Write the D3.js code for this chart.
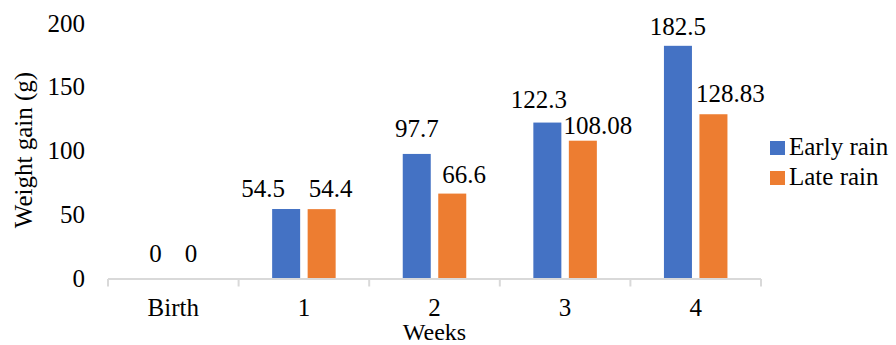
<!DOCTYPE html>
<html>
<head>
<meta charset="utf-8">
<script src="https://cdn.jsdelivr.net/npm/d3@7"></script>
<style>
  html, body { margin: 0; padding: 0; background: #fff; }
  svg { display: block; }
  svg text { font-family: "Liberation Serif", "Times New Roman", "DejaVu Serif", serif !important; fill: #000; }
</style>
</head>
<body>
<div id="chart"></div>
<script>
// Weight gain by week, early vs late rain
const categories = ["Birth", "1", "2", "3", "4"];
const seriesNames = ["Early rain", "Late rain"];
const earlyRain = [0, 54.5, 97.7, 122.3, 182.5];
const lateRain = [0, 54.4, 66.6, 108.08, 128.83];
const valueLabels = [
  ["0", "54.5", "97.7", "122.3", "182.5"],
  ["0", "54.4", "66.6", "108.08", "128.83"]
];
const yTicks = [0, 50, 100, 150, 200];
const seriesColors = ["#4472C4", "#ED7D31"];

const W = 896, H = 345;
const FONT = 25;
const plot = { left: 108, right: 761, top: 23.5, bottom: 278.5 };

const svg = d3.select("#chart").append("svg")
  .attr("width", W).attr("height", H);

const x0 = d3.scaleBand().domain(categories).range([plot.left, plot.right]).padding(0);
const x1 = d3.scaleBand().domain(seriesNames).range([0, x0.bandwidth()])
  .paddingInner(0.211).paddingOuter(0.945);
const y = d3.scaleLinear().domain([0, 200]).range([plot.bottom, plot.top]);

const seriesValues = [earlyRain, lateRain];

// bars
seriesNames.forEach((name, si) => {
  svg.append("g").selectAll("rect")
    .data(categories.map((c, i) => ({ c, v: seriesValues[si][i] })))
    .join("rect")
    .attr("x", d => x0(d.c) + x1(name))
    .attr("width", x1.bandwidth())
    .attr("y", d => y(d.v))
    .attr("height", d => y(0) - y(d.v))
    .attr("fill", seriesColors[si]);
});

// category axis
const xAxis = svg.append("g")
  .attr("transform", `translate(0,${plot.bottom + 0.5})`)
  .call(d3.axisBottom(x0).tickSize(0).tickFormat(d => d));
xAxis.attr("font-family", null).attr("font-size", null);
xAxis.select(".domain").remove();
xAxis.selectAll("text")
  .attr("font-size", FONT)
  .attr("y", 0).attr("dy", 0)
  .attr("transform", "translate(0,37)");
xAxis.append("line")
  .attr("x1", plot.left).attr("x2", plot.right)
  .attr("y1", 0).attr("y2", 0)
  .attr("stroke", "#d9d9d9").attr("stroke-width", 2);
xAxis.selectAll(".boundary")
  .data(d3.range(categories.length + 1))
  .join("line")
  .attr("x1", i => plot.left + i * x0.step())
  .attr("x2", i => plot.left + i * x0.step())
  .attr("y1", 0).attr("y2", 7.5)
  .attr("stroke", "#d9d9d9").attr("stroke-width", 2);

// value axis (labels only)
const yAxis = svg.append("g")
  .attr("transform", `translate(85,0)`)
  .call(d3.axisLeft(y).tickValues(yTicks).tickSize(0).tickPadding(0));
yAxis.attr("font-family", null).attr("font-size", null);
yAxis.select(".domain").remove();
yAxis.selectAll("text")
  .attr("font-size", FONT)
  .attr("dy", "0.3em");

// axis titles; the vertical one is sized to span 166px
const yTitle = svg.append("text")
  .attr("transform", `translate(32,150) rotate(-90)`)
  .attr("text-anchor", "middle")
  .attr("font-size", FONT)
  .text("Weight gain (g)");
const yTitleLen = yTitle.node().getComputedTextLength();
if (yTitleLen > 0) yTitle.attr("font-size", Math.min(FONT, FONT * 166 / yTitleLen));

svg.append("text")
  .attr("x", (plot.left + plot.right) / 2)
  .attr("y", 340)
  .attr("text-anchor", "middle")
  .attr("font-size", 24)
  .text("Weeks");

// data labels; each one nudged sideways and lifted above its bar
const labelNudge = [
  [[0, 17], [-23, 11.7], [0, 16.7], [-8.5, 15], [0, 10.5]],
  [[0, 17], [9, 11.7], [12, 11], [15, 6.7], [17, 12.3]]
];
seriesNames.forEach((name, si) => {
  svg.append("g").selectAll("text")
    .data(categories.map((c, i) => ({ c, i, v: seriesValues[si][i] })))
    .join("text")
    .attr("x", d => x0(d.c) + x1(name) + x1.bandwidth() / 2 + labelNudge[si][d.i][0])
    .attr("y", d => y(d.v) - labelNudge[si][d.i][1])
    .attr("text-anchor", "middle")
    .attr("font-size", FONT)
    .text(d => valueLabels[si][d.i]);
});

// legend
const legend = svg.append("g").attr("transform", "translate(770,141)");
seriesNames.forEach((name, si) => {
  const g = legend.append("g").attr("transform", `translate(0,${si * 30})`);
  g.append("rect").attr("width", 15).attr("height", 14).attr("fill", seriesColors[si]);
  g.append("text").attr("x", 19).attr("y", 13.5).attr("font-size", FONT).text(name);
});
</script>
</body>
</html>
